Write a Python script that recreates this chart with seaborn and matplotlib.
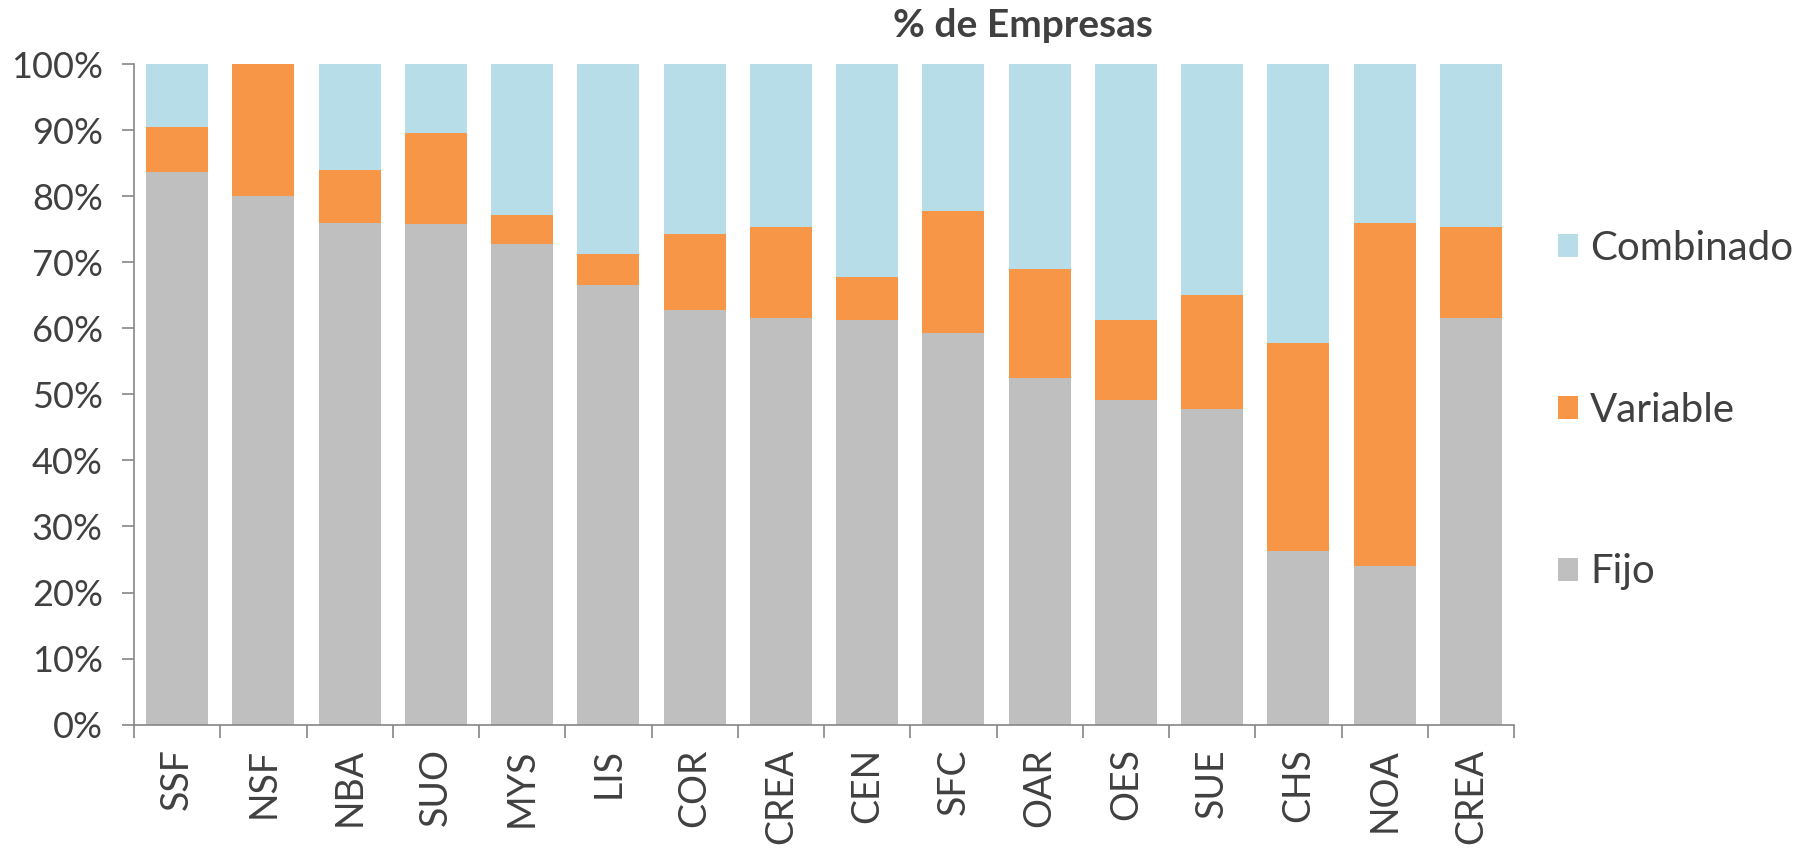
import numpy as np
import pandas as pd
import matplotlib
matplotlib.use("Agg")
import matplotlib.pyplot as plt
import seaborn as sns
from matplotlib.patches import Patch

categories = ["SSF", "NSF", "NBA", "SUO", "MYS", "LIS", "COR", "CREA",
              "CEN", "SFC", "OAR", "OES", "SUE", "CHS", "NOA", "CREA"]
fijo = [83.7, 80.0, 76.0, 75.8, 72.7, 66.6, 62.8, 61.6,
        61.2, 59.3, 52.4, 49.2, 47.8, 26.3, 24.0, 61.6]
variable = [6.8, 20.0, 7.9, 13.8, 4.5, 4.7, 11.5, 13.7,
            6.5, 18.4, 16.6, 12.1, 17.3, 31.5, 51.9, 13.7]
combinado = [100 - f - v for f, v in zip(fijo, variable)]
series_names = ["Fijo", "Variable", "Combinado"]
y_ticks = [0, 10, 20, 30, 40, 50, 60, 70, 80, 90, 100]

colors = {"Fijo": "#BFBFBF", "Variable": "#F79646", "Combinado": "#B7DDE8"}
text_color = "#404040"
axis_color = "#868686"

sns.set_theme(style="white")
plt.rcParams["font.family"] = ["Lato", "DejaVu Sans"]

pos = list(range(len(categories)))
df = pd.DataFrame({
    "pos": pos,
    "fijo": fijo,
    "fv": [f + v for f, v in zip(fijo, variable)],
    "total": [f + v + c for f, v, c in zip(fijo, variable, combinado)],
})

fig = plt.figure(figsize=(18.12, 8.49), dpi=100)
ax = fig.add_axes([134 / 1812, 1 - 724.7 / 849, (1514 - 134) / 1812, (724.7 - 64) / 849])

sns.barplot(data=df, x="pos", y="total", color=colors["Combinado"], width=0.72,
            saturation=1, ax=ax, edgecolor="none", linewidth=0)
sns.barplot(data=df, x="pos", y="fv", color=colors["Variable"], width=0.72,
            saturation=1, ax=ax, edgecolor="none", linewidth=0)
sns.barplot(data=df, x="pos", y="fijo", color=colors["Fijo"], width=0.72,
            saturation=1, ax=ax, edgecolor="none", linewidth=0)

ax.set_xlim(-0.5, len(categories) - 0.5)
ax.set_ylim(0, 100)
ax.set_xlabel("")
ax.set_ylabel("")

ax.set_yticks(y_ticks)
ax.set_yticklabels([f"{t}%" for t in y_ticks])
ax.set_xticks(pos)
ax.set_xticklabels(categories, rotation=90)
ax.set_xticks(np.arange(-0.5, len(categories), 1.0), minor=True)

ax.tick_params(axis="x", which="major", length=0, pad=17, labelsize=27, labelcolor=text_color)
ax.tick_params(axis="x", which="minor", length=9.4, width=1.2, color=axis_color, direction="out", bottom=True)
ax.tick_params(axis="y", which="major", length=8.5, width=1.2, color=axis_color, direction="out",
               left=True, pad=14, labelsize=26, labelcolor=text_color)

for s in ["top", "right"]:
    ax.spines[s].set_visible(False)
for s in ["left", "bottom"]:
    ax.spines[s].set_color(axis_color)
    ax.spines[s].set_linewidth(1.2)

handles = [Patch(facecolor=colors[n], edgecolor="none") for n in reversed(series_names)]
fig.legend(handles, list(reversed(series_names)), loc="center left",
           bbox_to_anchor=(1558 / 1812, 1 - 410 / 849), frameon=False,
           fontsize=29, labelcolor=text_color, handlelength=0.5, handleheight=0.5,
           handletextpad=0.3, labelspacing=3.1, borderpad=0, borderaxespad=0)

fig.text(1023 / 1812, 1 - 37 / 849, "% de Empresas", ha="center", va="baseline",
         fontsize=28, fontweight="bold", color=text_color)

fig.savefig("out.png", dpi=100)
